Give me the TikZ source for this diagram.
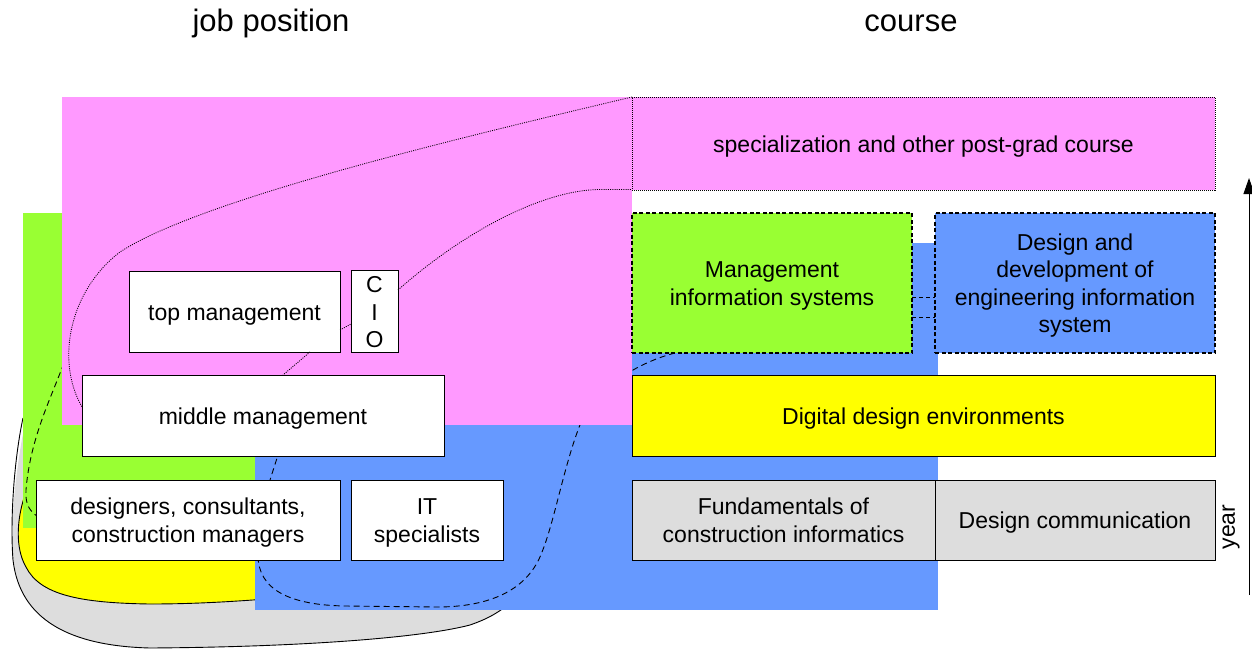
\documentclass[tikz,border=0pt]{standalone}
\usepackage{fontspec}
\setmainfont{Liberation Sans}
\usetikzlibrary{arrows.meta}
\definecolor{cpink}{RGB}{255,153,255}
\definecolor{cgreen}{RGB}{153,255,51}
\definecolor{cblue}{RGB}{102,153,255}
\definecolor{cyellow}{RGB}{255,255,0}
\definecolor{cgray}{RGB}{221,221,221}
\newcommand\boxtext[1]{\raisebox{-3pt}[\height][\depth]{\begin{tabular}{@{}c@{}}#1\end{tabular}}}
\tikzset{
  box/.style={draw=black, line width=0.9pt, fill=white, inner sep=0pt, outer sep=0pt, align=center,
    font=\fontsize{23}{27.5}\selectfont},
  dashbox/.style={box, dash pattern=on 4pt off 2.5pt, line width=1.2pt},
  dotbox/.style={box, dash pattern=on 1pt off 1pt, line width=0.9pt},
  blob/.style={draw=black, line width=0.9pt},
  dotline/.style={draw=black, line width=0.8pt, dash pattern=on 1pt off 1.2pt},
  dashline/.style={draw=black, line width=0.9pt, dash pattern=on 6pt off 4pt},
  head/.style={font=\fontsize{31}{35}\selectfont, inner sep=0pt}
}
\begin{document}
\begin{tikzpicture}[x=1pt,y=-1pt]
\useasboundingbox (0,0) rectangle (1252,650);
% gray blob
\fill[cgray] (30,400) .. controls (16,460) and (10,520) .. (13,560)
  .. controls (20,620) and (70,646) .. (150,648)
  .. controls (300,647) and (420,638) .. (470,625)
  .. controls (490,618) and (500,612) .. (520,595) -- (520,450) -- (30,450) -- cycle;
\draw[blob] (23,418) .. controls (14,460) and (10,520) .. (13,560)
  .. controls (20,620) and (70,646) .. (150,648)
  .. controls (300,647) and (420,638) .. (470,625)
  .. controls (490,618) and (500,612) .. (520,595);
% yellow blob
\fill[cyellow] (24,495) .. controls (17,520) and (15,548) .. (26,567)
  .. controls (40,595) and (80,603) .. (150,604)
  .. controls (200,604) and (240,601) .. (280,598) -- (280,500) -- cycle;
\draw[blob] (24,498) .. controls (17,520) and (15,548) .. (26,567)
  .. controls (40,595) and (80,603) .. (150,604)
  .. controls (200,604) and (240,601) .. (280,598);
% green region
\fill[cgreen] (23,213) rectangle (400,528);
% blue region
\fill[cblue] (255,243) rectangle (938,610);
% dashed loop
\draw[dashline] (675,353) .. controls (640,362) and (600,385) .. (582,420)
  .. controls (565,460) and (555,520) .. (542,552)
  .. controls (528,590) and (490,607) .. (437,607) -- (345,606)
  .. controls (290,605) and (258,590) .. (258,555) -- (265,500) -- (270,480) -- (278,455)
  -- (150,420) -- (75,372) -- (62,368)
  .. controls (50,400) and (30,440) .. (26,490)
  .. controls (25,505) and (30,512) .. (40,518);
% pink region
\fill[cpink] (62,97) rectangle (632,425);
% boxes
\node[dotbox, fill=cpink, minimum width=583pt, minimum height=93pt] (spec) at (923.5,143.5) {\boxtext{specialization and other post-grad course}};
\node[dashbox, fill=cgreen, minimum width=280pt, minimum height=140pt] (mis) at (772,283) {\boxtext{Management\\information systems}};
\node[dashbox, fill=cblue, minimum width=280pt, minimum height=140pt] (dd) at (1075,283) {\boxtext{Design and\\development of\\engineering information\\system}};
\node[box, fill=cyellow, minimum width=583pt, minimum height=81pt] (dde) at (923.5,415.5) {\boxtext{Digital design environments}};
\node[box, fill=cgray, minimum width=303pt, minimum height=80pt] (fund) at (783.5,520) {\boxtext{Fundamentals of\\construction informatics}};
\node[box, fill=cgray, minimum width=280pt, minimum height=80pt] (dcom) at (1075,520) {\boxtext{Design communication}};
\node[box, minimum width=211pt, minimum height=81pt] (top) at (234.5,311.5) {\boxtext{top management}};
\node[box, minimum width=47pt, minimum height=81pt] (cio) at (374.5,311.5) {\boxtext{C\\I\\O}};
\node[box, minimum width=362pt, minimum height=81pt] (mid) at (263,415.5) {\boxtext{middle management}};
\node[box, minimum width=304pt, minimum height=80pt] (des) at (188,520) {\boxtext{designers, consultants,\\construction managers}};
\node[box, minimum width=152pt, minimum height=80pt] (it) at (427,520) {\boxtext{IT\\specialists}};
% dotted connectors
\coordinate (specTL) at (632,97);
\coordinate (specBL) at (632,189.5);
\draw[dotline] (specTL) .. controls (450,140) and (200,200) .. (120,252)
  .. controls (70,290) and (55,360) .. (mid.west |- 0,407);
\draw[dotline] (cio.east |- 0,290) .. controls (460,235) and (540,190) .. (600,189.5) -- (specBL);
\draw[dotline] (top.east |- 0,330) -- (cio.west |- 0,324);
\draw[dotline] (top.south -| 310,0) -- (mid.north -| 283,0);
% dashed between MIS and DD
\draw[dashline, dash pattern=on 4pt off 3pt] (mis.east |- 0,297) -- (dd.west |- 0,297);
\draw[dashline, dash pattern=on 4pt off 3pt] (mis.east |- 0,317) -- (dd.west |- 0,317);
% headers
\node[head] (hjob) at (271,23) {job position};
\node[head] (hcourse) at (911,23) {course};
% year arrow
\coordinate (ybot) at (1249,595);
\coordinate (ytop) at (1249,178);
\draw[line width=1pt, -{Triangle[length=16pt,width=11pt]}] (ybot) -- (ytop);
\node[rotate=90, font=\fontsize{23}{27}\selectfont, inner sep=0pt] (year) at (1231,527) {year};
\end{tikzpicture}
\end{document}
